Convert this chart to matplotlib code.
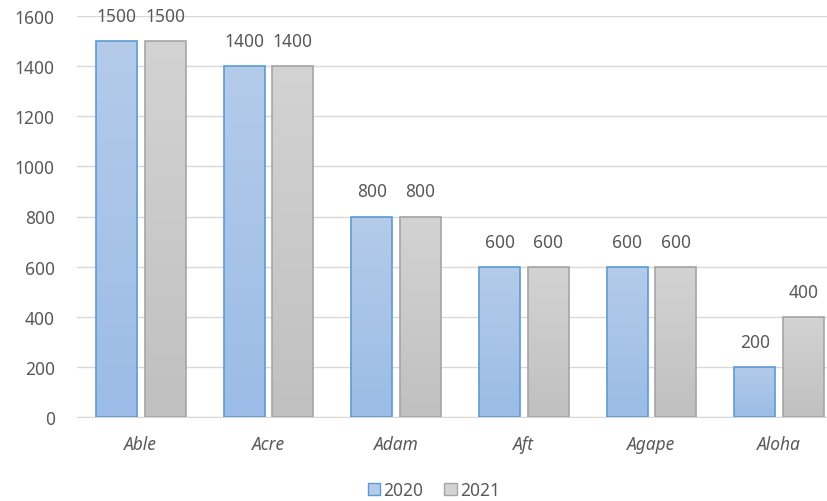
import numpy as np
import matplotlib
matplotlib.use("Agg")
import matplotlib.pyplot as plt
from matplotlib.colors import LinearSegmentedColormap
from matplotlib.patches import Rectangle

categories = ["Able", "Acre", "Adam", "Aft", "Agape", "Aloha"]
series_names = ["2020", "2021"]
values_2020 = [1500, 1400, 800, 600, 600, 200]
values_2021 = [1500, 1400, 800, 600, 600, 400]
y_ticks = [0, 200, 400, 600, 800, 1000, 1200, 1400, 1600]

plt.rcParams["font.family"] = ["Noto Sans", "DejaVu Sans"]
text_color = "#595959"
fs = 12.5

fig = plt.figure(figsize=(8.28, 5.02), dpi=100)
ax = fig.add_axes([77 / 828, 84 / 502, 766 / 828, 401 / 502])

x = np.arange(len(categories))
width = 0.32
offset = 0.19

styles = [
    dict(top="#b4cbea", bottom="#9bbce6", edge="#5b9bd5"),
    dict(top="#d3d3d3", bottom="#c0c0c0", edge="#a5a5a5"),
]

grad = np.linspace(0, 1, 256).reshape(-1, 1)
for vals, sign, st in zip([values_2020, values_2021], [-1, 1], styles):
    cmap = LinearSegmentedColormap.from_list("g", [st["bottom"], st["top"]])
    bars = ax.bar(x + sign * offset, vals, width, facecolor="none",
                  edgecolor=st["edge"], linewidth=1.2, zorder=3)
    for b, v in zip(bars, vals):
        x0 = b.get_x()
        im = ax.imshow(grad, cmap=cmap, origin="lower", aspect="auto",
                       extent=[x0, x0 + b.get_width(), 0, v], zorder=2)
        im.set_clip_path(b)
        ax.text(b.get_x() + b.get_width() / 2, v + 100, f"{v}",
                ha="center", va="center", fontsize=fs, color=text_color,
                clip_on=False)

ax.set_xlim(-0.5, len(categories) - 0.5)
ax.set_ylim(0, 1600)
ax.set_yticks(y_ticks)
ax.set_yticklabels([str(t) for t in y_ticks], fontsize=fs, color=text_color)
ax.set_xticks(x)
ax.set_xticklabels(categories, fontsize=fs, color=text_color, style="italic")
ax.tick_params(axis="both", length=0)
ax.tick_params(axis="y", pad=16)
ax.tick_params(axis="x", pad=13)
ax.grid(axis="y", color="#d9d9d9", linewidth=1, zorder=0)
ax.set_axisbelow(True)
for s in ["top", "right", "left"]:
    ax.spines[s].set_visible(False)
ax.spines["bottom"].set_color("#d9d9d9")

handles = [Rectangle((0, 0), 1, 1, facecolor=st["top"], edgecolor=st["edge"])
           for st in styles]
fig.legend(handles, series_names, loc="center", bbox_to_anchor=(434 / 828, 1 - 491 / 502),
           ncol=2, frameon=False, fontsize=fs, handlelength=0.7, handleheight=0.7,
           handletextpad=0.2, columnspacing=1.2, labelcolor=text_color)

fig.savefig("out.png", dpi=100)
